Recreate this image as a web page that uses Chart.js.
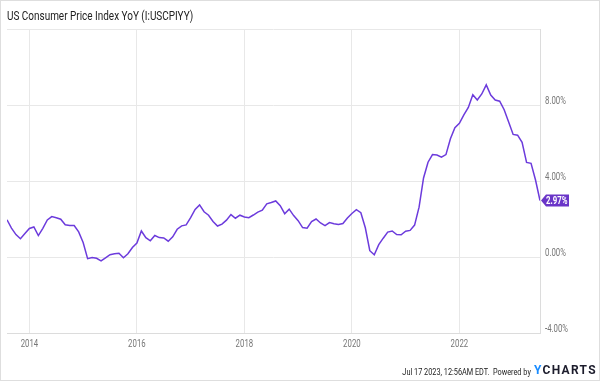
<!DOCTYPE html>
<html>
<head>
<meta charset="utf-8">
<script src="https://cdn.jsdelivr.net/npm/chart.js@4"></script>
<style>
  html, body { margin: 0; padding: 0; background: #fff; }
  #wrap { position: relative; width: 600px; height: 381px; box-sizing: border-box; border: 1px solid #dedede; }
  #title { position: absolute; left: 6px; top: 8px; font: 12px Roboto, sans-serif; color: #222; transform: scaleX(0.83); transform-origin: left top; white-space: nowrap; }
  #foot { position: absolute; right: 68px; top: 365px; font: 9.5px Roboto, sans-serif; color: #222; white-space: nowrap; transform: scaleX(0.77); transform-origin: right center; }
  #logo { position: absolute; left: 533px; top: 362px; font: bold 12px Roboto, sans-serif; letter-spacing: 1.3px; color: #1c1c2c; white-space: nowrap; }
  #logo span { color: #1a8cff; }
  canvas { position: absolute; left: -1px; top: -1px; }
</style>
</head>
<body>
<div id="wrap">
  <canvas id="chart" width="600" height="381"></canvas>
  <div id="title">US Consumer Price Index YoY (I:USCPIYY)</div>
  <div id="foot">Jul 17 2023, 12:56AM EDT.&nbsp; Powered by</div>
  <div id="logo"><span>Y</span>CHARTS</div>
</div>
<script>
// monthly values, Jul 2013 -> Jun 2023
const firstYear = 2013;
const firstMonth = 7;
const cpiYoY = [
  1.96, 1.52, 1.18, 0.96, 1.24, 1.50,
  1.58, 1.13, 1.51, 1.95, 2.13, 2.07, 1.99, 1.70, 1.66, 1.66, 1.32, 0.76,
  -0.09, -0.03, -0.07, -0.20, -0.04, 0.12, 0.17, 0.20, -0.04, 0.17, 0.50, 0.73,
  1.37, 1.02, 0.85, 1.13, 1.02, 1.00, 0.83, 1.06, 1.46, 1.64, 1.69, 2.07,
  2.50, 2.74, 2.38, 2.20, 1.87, 1.63, 1.73, 1.94, 2.23, 2.04, 2.20, 2.11,
  2.07, 2.21, 2.36, 2.46, 2.80, 2.87, 2.95, 2.70, 2.28, 2.52, 2.18, 1.91,
  1.55, 1.52, 1.86, 2.00, 1.79, 1.65, 1.81, 1.75, 1.71, 1.76, 2.05, 2.29,
  2.49, 2.33, 1.54, 0.33, 0.12, 0.65, 0.99, 1.31, 1.37, 1.18, 1.17, 1.36,
  1.40, 1.68, 2.62, 4.16, 4.99, 5.39, 5.37, 5.25, 5.39, 6.22, 6.81, 7.04,
  7.48, 7.87, 8.54, 8.26, 8.58, 9.06, 8.52, 8.26, 8.20, 7.75, 7.11, 6.45,
  6.41, 6.04, 4.98, 4.93, 4.05, 2.97
];
const yearTicks = [2014, 2016, 2018, 2020, 2022];
const yTicks = [-4, 0, 4, 8, 12];

const lineColor = '#6c3bdc';
const narrow = 0.78; // no condensed font installed, squeeze Roboto instead

// month-end dates as decimal years
const points = cpiYoY.map((v, i) => {
  const m = firstMonth + i;
  return { x: firstYear + m / 12, y: v };
});

function squeezedText(ctx, txt, x, y, align) {
  const w = ctx.measureText(txt).width * narrow;
  let left = x;
  if (align === 'center') left = x - w / 2;
  ctx.save();
  ctx.translate(left, y);
  ctx.scale(narrow, 1);
  ctx.fillText(txt, 0, 0);
  ctx.restore();
}

// tick labels + purple tag with the last value
const labelsAndTag = {
  id: 'labelsAndTag',
  afterDraw(chart) {
    const ctx = chart.ctx;
    const xs = chart.scales.x, ys = chart.scales.y;
    const area = chart.chartArea;
    ctx.save();
    ctx.fillStyle = '#777';
    ctx.font = '10px Roboto, sans-serif';
    ctx.textBaseline = 'middle';
    yearTicks.forEach(v => squeezedText(ctx, String(v), xs.getPixelForValue(v), area.bottom + 11, 'center'));
    yTicks.slice(0, -1).forEach(v => squeezedText(ctx, v.toFixed(2) + '%', area.right + 5, ys.getPixelForValue(v) - 4, 'left'));

    const last = cpiYoY[cpiYoY.length - 1];
    const y = ys.getPixelForValue(last);
    const x = area.right + 1;
    ctx.fillStyle = '#6a35c8';
    ctx.beginPath();
    ctx.moveTo(x, y);
    ctx.lineTo(x + 5, y - 6);
    ctx.lineTo(x + 28, y - 6);
    ctx.lineTo(x + 28, y + 6);
    ctx.lineTo(x + 5, y + 6);
    ctx.closePath();
    ctx.fill();
    ctx.fillStyle = '#fff';
    ctx.font = 'bold 10px Roboto, sans-serif';
    squeezedText(ctx, last.toFixed(2) + '%', x + 5, y + 0.5, 'left');
    ctx.restore();
  }
};

new Chart(document.getElementById('chart'), {
  type: 'line',
  data: {
    datasets: [{
      data: points,
      borderColor: lineColor,
      borderWidth: 1.5,
      pointRadius: 0,
      tension: 0,
      fill: false
    }]
  },
  options: {
    responsive: false,
    animation: false,
    layout: { padding: { left: 7, top: 29, right: 0, bottom: 0 } },
    plugins: { legend: { display: false }, tooltip: { enabled: false } },
    scales: {
      x: {
        type: 'linear',
        min: firstYear + firstMonth / 12,
        max: firstYear + (firstMonth + cpiYoY.length - 1) / 12,
        afterBuildTicks: s => { s.ticks = yearTicks.map(v => ({ value: v })); },
        afterFit: s => { s.height = 48; },
        grid: { color: '#e8e8e8', drawTicks: false },
        border: { color: '#dcdcdc' },
        ticks: { display: false }
      },
      y: {
        position: 'right',
        min: -4,
        max: 12,
        afterBuildTicks: s => { s.ticks = yTicks.map(v => ({ value: v })); },
        afterFit: s => { s.width = 60; },
        grid: { color: '#e8e8e8', drawTicks: false },
        border: { color: '#dcdcdc' },
        ticks: { display: false }
      }
    }
  },
  plugins: [labelsAndTag]
});
</script>
</body>
</html>
